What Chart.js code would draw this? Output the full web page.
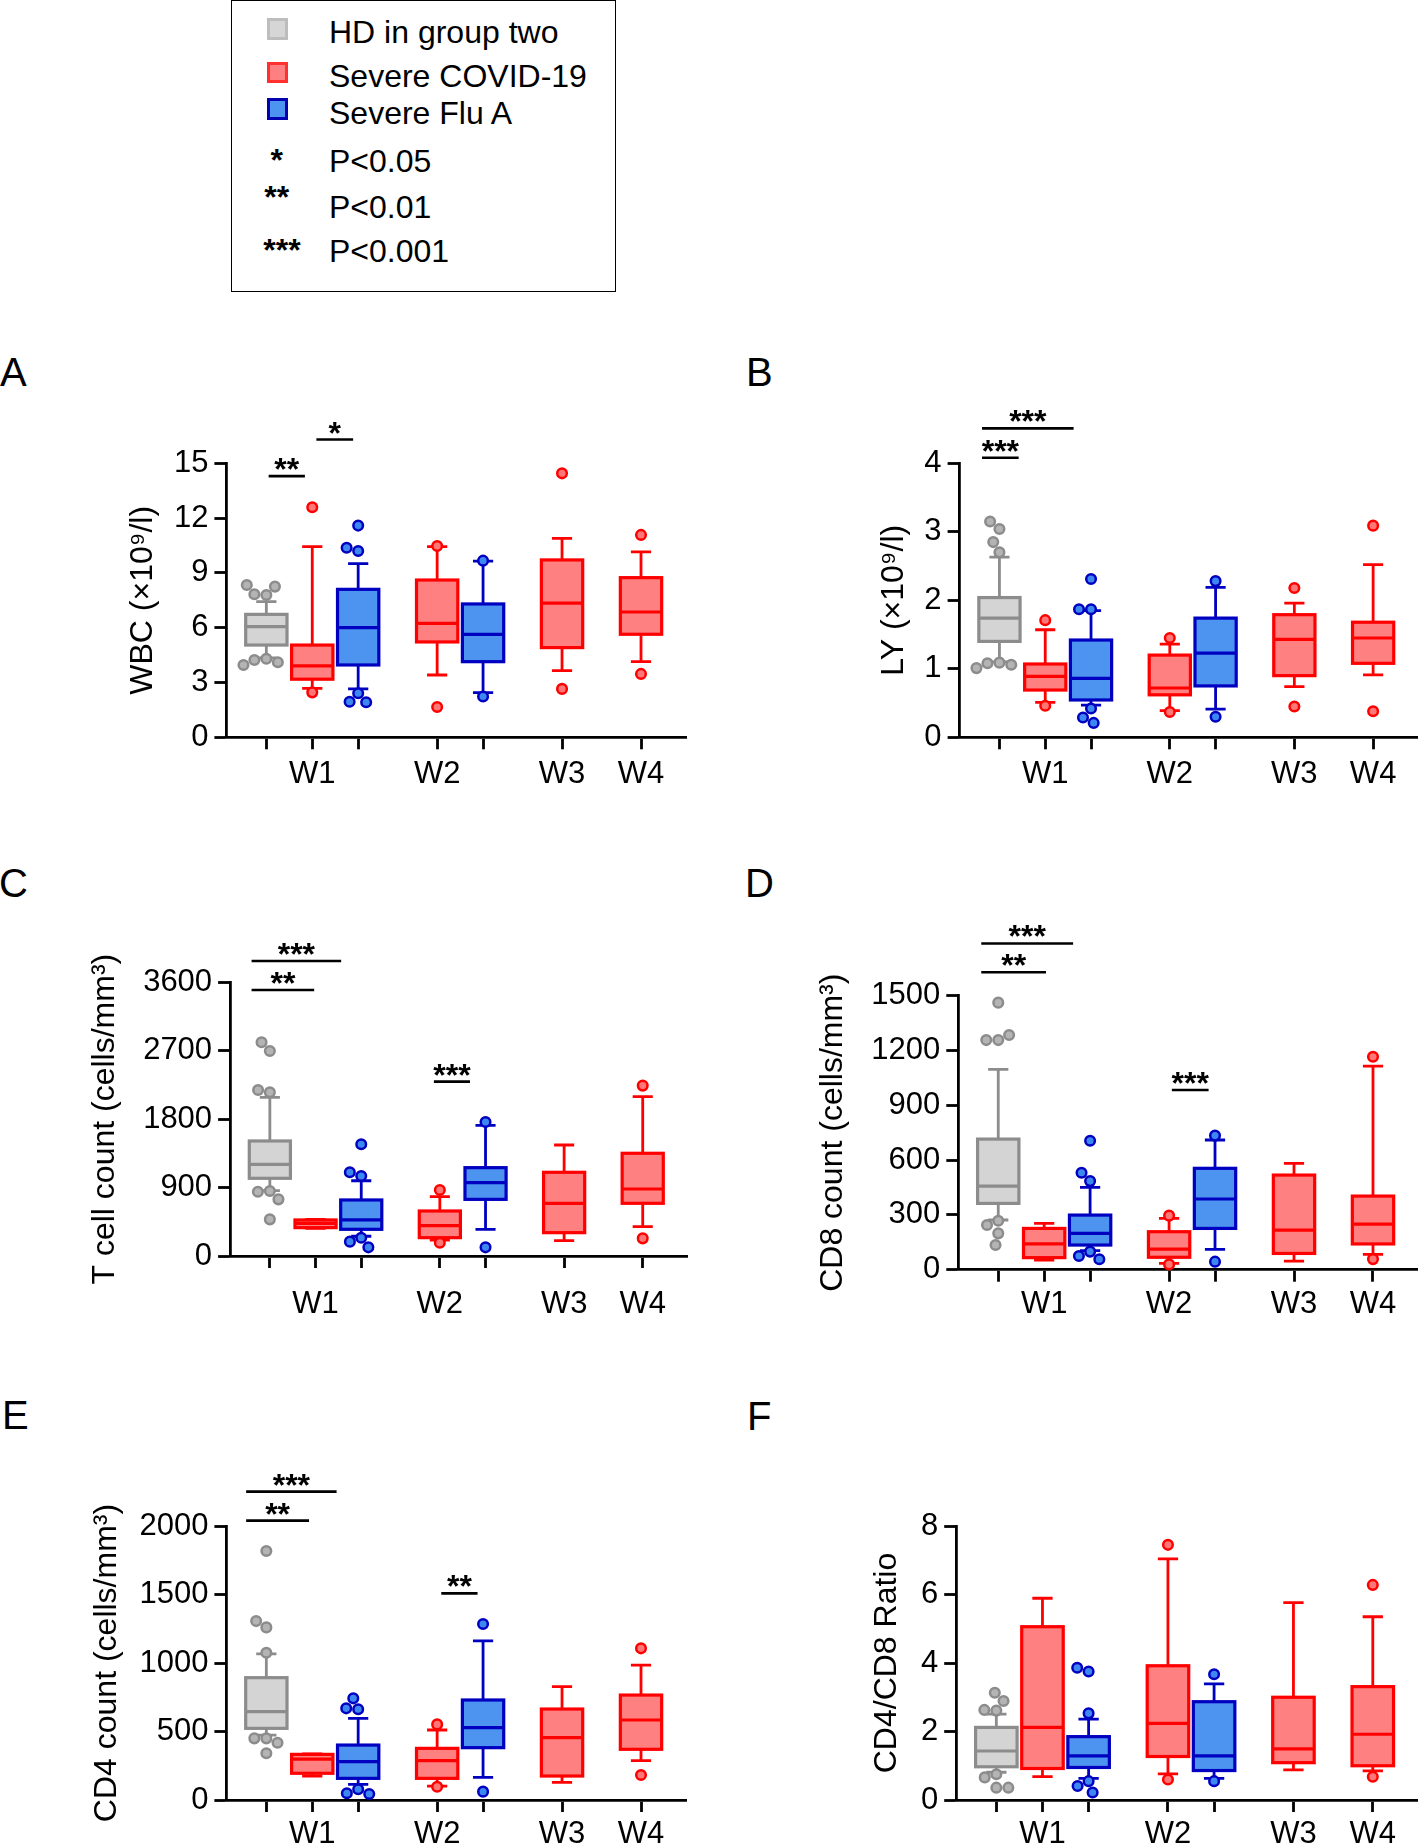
<!DOCTYPE html>
<html>
<head>
<meta charset="utf-8">
<script src="https://cdn.jsdelivr.net/npm/chart.js@4.4.1/dist/chart.umd.min.js"></script>
<style>
  body { margin: 0; background: #fff; width: 1418px; height: 1847px; position: relative; overflow: hidden;
         font-family: "Liberation Sans", Arial, sans-serif; }
  canvas { position: absolute; }
  .t { position: absolute; line-height: 1; white-space: nowrap; color: #000; }
  .sq { position: absolute; width: 21.6px; height: 21.6px; box-sizing: border-box; border: 3px solid; }
  #legend { position: absolute; left: 231px; top: 0; width: 385px; height: 292px; box-sizing: border-box; border: 1.5px solid #000; }
</style>
</head>
<body>
<div id="legend"></div>
<div class="sq" style="left:266.7px;top:18.3px;background:#d6d6d6;border-color:#bdbdbd"></div>
<div class="sq" style="left:266.7px;top:61.7px;background:#ff8080;border-color:#ff3030"></div>
<div class="sq" style="left:266.7px;top:98.3px;background:#4d94f0;border-color:#0000b0"></div>
<div class="t" style="left:329px;top:16.2px;font-size:32px">HD in group two</div>
<div class="t" style="left:329px;top:60.2px;font-size:32px">Severe COVID-19</div>
<div class="t" style="left:329px;top:96.9px;font-size:32px">Severe Flu A</div>
<div class="t" style="left:329px;top:144.6px;font-size:32px">P&lt;0.05</div>
<div class="t" style="left:329px;top:191.2px;font-size:32px">P&lt;0.01</div>
<div class="t" style="left:329px;top:235.2px;font-size:32px">P&lt;0.001</div>
<div class="t" style="left:276.7px;top:144px;font-size:32px;font-weight:bold;transform:translateX(-50%)">*</div>
<div class="t" style="left:276.7px;top:180.5px;font-size:32px;font-weight:bold;transform:translateX(-50%)">**</div>
<div class="t" style="left:282px;top:234px;font-size:32px;font-weight:bold;transform:translateX(-50%)">***</div>

<div class="t" style="left:0px;top:352px;font-size:40px">A</div>
<div class="t" style="left:746px;top:352px;font-size:40px">B</div>
<div class="t" style="left:-1px;top:863px;font-size:40px">C</div>
<div class="t" style="left:745px;top:863px;font-size:40px">D</div>
<div class="t" style="left:2px;top:1395px;font-size:40px">E</div>
<div class="t" style="left:747px;top:1396px;font-size:40px">F</div>

<canvas id="cA" width="700" height="470" style="left:0;top:340px"></canvas>
<canvas id="cB" width="698" height="470" style="left:720px;top:340px"></canvas>
<canvas id="cC" width="700" height="480" style="left:0;top:850px"></canvas>
<canvas id="cD" width="698" height="480" style="left:720px;top:850px"></canvas>
<canvas id="cE" width="700" height="467" style="left:0;top:1380px"></canvas>
<canvas id="cF" width="698" height="467" style="left:720px;top:1380px"></canvas>

<script>
// boxes along the x axis: group (0 HD, 1 COVID, 2 Flu) and week
const groupNames = ["HD in group two", "Severe COVID-19", "Severe Flu A"];
const weekLabels = ["W1", "W2", "W3", "W4"];
const boxGroup = [0, 1, 2, 1, 2, 1, 1];
const boxWeek = [0, 0, 0, 1, 1, 2, 3];

// [lower whisker, Q1, median, Q3, upper whisker]
const wbcStats = [
  [4.35, 5.05, 6.06, 6.73, 7.43],
  [2.68, 3.18, 3.91, 5.05, 10.44],
  [2.65, 3.96, 6.0, 8.1, 9.51],
  [3.41, 5.22, 6.24, 8.61, 10.44],
  [2.45, 4.14, 5.64, 7.3, 9.64],
  [3.65, 4.91, 7.34, 9.71, 10.89],
  [4.14, 5.64, 6.86, 8.74, 10.15],
];
const wbcOutliers = [
  [8.34, 7.83, 7.79, 8.25, 4.3, 3.96, 4.11, 4.23],
  [12.59, 2.46],
  [11.59, 10.38, 10.2, 2.41, 1.92, 1.95],
  [10.47, 1.66],
  [9.67, 2.23],
  [14.45, 2.65],
  [11.08, 3.47],
];
const wbcSig = [[0.05, 0.84, 14.3, "**"], [1.09, 1.89, 16.3, "*"]];

const lyStats = [
  [1.1, 1.4, 1.74, 2.04, 2.63],
  [0.51, 0.69, 0.89, 1.07, 1.57],
  [0.47, 0.545, 0.86, 1.42, 1.85],
  [0.39, 0.62, 0.72, 1.2, 1.36],
  [0.41, 0.75, 1.23, 1.74, 2.19],
  [0.74, 0.9, 1.43, 1.79, 1.96],
  [0.91, 1.08, 1.45, 1.68, 2.52],
];
const lyOutliers = [
  [3.04, 3.15, 2.85, 2.7, 1.08, 1.01, 1.06, 1.09],
  [1.71, 0.46],
  [2.31, 1.87, 1.87, 0.42, 0.21, 0.29],
  [1.45, 0.37],
  [2.28, 0.3],
  [2.18, 0.45],
  [3.09, 0.38],
];
const lySig = [[-0.38, 0.42, 4.08, "***"], [-0.38, 1.62, 4.51, "***"]];

const tcellStats = [
  [860, 1022, 1206, 1513, 2087],
  [364, 373, 430, 474, 482],
  [260, 351, 474, 737, 990],
  [210, 241, 399, 592, 780],
  [351, 745, 965, 1162, 1719],
  [202, 307, 693, 1101, 1460],
  [386, 693, 881, 1351, 2096],
];
const tcellOutliers = [
  [2811, 2697, 2153, 2184, 846, 745, 855, 482],
  [],
  [1469, 1101, 1052, 241, 189, 114],
  [868, 175],
  [1763, 114],
  [],
  [2241, 232],
];
const tcellSig = [[-0.4, 0.97, 3499, "**"], [-0.4, 1.56, 3881, "***"], [3.59, 4.38, 2293, "***"]];

const cd8Stats = [
  [272, 363, 458, 715, 1097],
  [53, 66, 141, 226, 254],
  [104, 135, 199, 299, 451],
  [35, 68, 113, 208, 281],
  [111, 226, 387, 555, 710],
  [47, 89, 217, 518, 582],
  [84, 141, 250, 403, 1115],
];
const cd8Outliers = [
  [1462, 1285, 1257, 1257, 268, 245, 199, 135],
  [],
  [706, 531, 485, 99, 57, 75],
  [296, 29],
  [734, 44],
  [],
  [1166, 58],
];
const cd8Sig = [[-0.37, 1.04, 1628, "**"], [-0.37, 1.63, 1786, "***"], [3.78, 4.58, 984, "***"]];

const cd4Stats = [
  [474, 523, 645, 893, 1066],
  [175, 195, 299, 333, 336],
  [114, 158, 280, 401, 596],
  [102, 158, 287, 377, 511],
  [165, 382, 528, 730, 1161],
  [129, 175, 455, 664, 827],
  [287, 370, 584, 766, 985],
];
const cd4Outliers = [
  [1817, 1306, 1260, 1075, 450, 418, 450, 341],
  [],
  [742, 669, 662, 78, 44, 49],
  [552, 97],
  [1285, 61],
  [],
  [1107, 182],
];
const cd4Sig = [[-0.44, 0.93, 2039, "**"], [-0.44, 1.53, 2251, "***"], [3.81, 4.6, 1508, "**"]];

const ratioStats = [
  [0.81, 0.97, 1.43, 2.12, 2.51],
  [0.68, 0.92, 2.12, 5.06, 5.89],
  [0.63, 0.95, 1.29, 1.85, 2.36],
  [0.76, 1.27, 2.24, 3.92, 7.04],
  [0.63, 0.86, 1.29, 2.87, 3.39],
  [0.88, 1.09, 1.49, 3.0, 5.76],
  [0.85, 1.0, 1.92, 3.31, 5.35],
];
const ratioOutliers = [
  [3.13, 2.89, 2.63, 2.61, 0.66, 0.75, 0.36, 0.36],
  [],
  [3.75, 3.86, 2.53, 0.55, 0.41, 0.22],
  [7.45, 0.6],
  [3.67, 0.55],
  [],
  [6.28, 0.68],
];
const ratioSig = [];

// layout / style
const slotPos = [0, 1, 2, 3.72, 4.72, 6.44, 8.16];
const X_MIN = -0.87, X_MAX = 9.14;
const BOX_HALF = 0.45, CAP_HALF = 0.22;
const DOT_R = 4.8, DOT_SEP = 12;
const FONT = '"Liberation Sans", Arial, sans-serif';
const strokeCol = ["#8c8c8c", "#ff0000", "#0000c0"];
const fillCol = ["#d4d4d4", "#ff8080", "#4d94f0"];
const dotFill = ["#b4b4b4", "#ff7676", "#3d88f0"];

const slotLabels = boxGroup.map((g, i) => (g === 1 ? weekLabels[boxWeek[i]] : ""));

function swarm(pys, sep) {
  const placed = [];
  return pys.map((py) => {
    const iv = [];
    placed.forEach((p) => {
      const dy = Math.abs(p.y - py);
      if (dy < sep) {
        const w = Math.sqrt(sep * sep - dy * dy);
        iv.push([p.dx - w, p.dx + w]);
      }
    });
    const cands = [0];
    iv.forEach(([a, b]) => cands.push(a, b));
    cands.sort((a, b) => Math.abs(a) - Math.abs(b) || a - b);
    const dx = cands.find((c) => iv.every(([a, b]) => c <= a + 1e-6 || c >= b - 1e-6));
    placed.push({ y: py, dx });
    return dx;
  });
}

const boxPlugin = {
  id: "boxes",
  afterDatasetsDraw(chart, args, o) {
    const { ctx } = chart;
    const x = chart.scales.x, y = chart.scales.y;
    const unit = x.getPixelForValue(1) - x.getPixelForValue(0);
    const bw = BOX_HALF * unit, cw = CAP_HALF * unit;
    ctx.save();
    o.stats.forEach((s, i) => {
      const g = boxGroup[i];
      const cx = x.getPixelForValue(slotPos[i]);
      const [lo, q1, med, q3, hi] = s.map((v) => y.getPixelForValue(v));
      ctx.strokeStyle = strokeCol[g];
      ctx.lineWidth = 2.8;
      ctx.beginPath();
      ctx.moveTo(cx, q3); ctx.lineTo(cx, hi);
      ctx.moveTo(cx - cw, hi); ctx.lineTo(cx + cw, hi);
      ctx.moveTo(cx, q1); ctx.lineTo(cx, lo);
      ctx.moveTo(cx - cw, lo); ctx.lineTo(cx + cw, lo);
      ctx.stroke();
      ctx.fillStyle = fillCol[g];
      ctx.fillRect(cx - bw, q3, 2 * bw, q1 - q3);
      ctx.lineWidth = 3.2;
      ctx.strokeRect(cx - bw, q3, 2 * bw, q1 - q3);
      ctx.beginPath();
      ctx.moveTo(cx - bw, med); ctx.lineTo(cx + bw, med);
      ctx.stroke();
    });
    // outliers, spread sideways like a swarm
    o.outliers.forEach((pts, i) => {
      if (!pts.length) return;
      const g = boxGroup[i];
      const cx = x.getPixelForValue(slotPos[i]);
      const med = o.stats[i][2];
      const sorted = pts.slice().sort((a, b) => Math.abs(a - med) - Math.abs(b - med));
      const pys = sorted.map((v) => y.getPixelForValue(v));
      const dxs = swarm(pys, DOT_SEP);
      ctx.fillStyle = dotFill[g];
      ctx.strokeStyle = strokeCol[g];
      ctx.lineWidth = 2.5;
      pys.forEach((py, k) => {
        ctx.beginPath();
        ctx.arc(cx + dxs[k], py, DOT_R, 0, Math.PI * 2);
        ctx.fill();
        ctx.stroke();
      });
    });
    // significance bars
    ctx.strokeStyle = "#000";
    ctx.fillStyle = "#000";
    ctx.lineWidth = 2.6;
    ctx.font = "bold 32px " + FONT;
    ctx.textAlign = "center";
    ctx.textBaseline = "alphabetic";
    o.sig.forEach(([a, b, v, txt]) => {
      const x1 = x.getPixelForValue(a), x2 = x.getPixelForValue(b);
      const py = y.getPixelForValue(v);
      ctx.beginPath();
      ctx.moveTo(x1, py); ctx.lineTo(x2, py);
      ctx.stroke();
      ctx.fillText(txt, (x1 + x2) / 2, py + 4);
    });
    ctx.restore();
  },
};

const panels = [
  { id: "cA", title: "WBC (×10⁹/l)", max: 15, step: 3, stats: wbcStats, outliers: wbcOutliers, sig: wbcSig,
    yW: 226.4, padTop: 123.3, padRight: 14, xH: 72.7, titlePad: 124.1, labelPad: 7 },
  { id: "cB", title: "LY (×10⁹/l)", max: 4, step: 1, stats: lyStats, outliers: lyOutliers, sig: lySig,
    yW: 239.6, padTop: 123.3, padRight: 0, xH: 72.7, titlePad: 154.9, labelPad: 7 },
  { id: "cC", title: "T cell count (cells/mm³)", max: 3600, step: 900, stats: tcellStats, outliers: tcellOutliers, sig: tcellSig,
    yW: 230.1, padTop: 132.3, padRight: 12.5, xH: 74, titlePad: 85.6, labelPad: 18 },
  { id: "cD", title: "CD8 count (cells/mm³)", max: 1500, step: 300, stats: cd8Stats, outliers: cd8Outliers, sig: cd8Sig,
    yW: 238.3, padTop: 145.7, padRight: 0, xH: 60.3, titlePad: 94.4, labelPad: 4.3 },
  { id: "cE", title: "CD4 count (cells/mm³)", max: 2000, step: 500, stats: cd4Stats, outliers: cd4Outliers, sig: cd4Sig,
    yW: 226.4, padTop: 146, padRight: 14, xH: 47, titlePad: 87.8, labelPad: 4 },
  { id: "cF", title: "CD4/CD8 Ratio", max: 8, step: 2, stats: ratioStats, outliers: ratioOutliers, sig: ratioSig,
    yW: 236.2, padTop: 146, padRight: 0, xH: 47, titlePad: 148.4, labelPad: 4 },
];

const axisGrid = { display: true, drawOnChartArea: false, drawTicks: true, tickLength: 12, tickWidth: 2.8, tickColor: "#000", color: "#000" };
const axisBorder = { display: true, color: "#000", width: 2.8 };

panels.forEach((p) => {
  new Chart(document.getElementById(p.id), {
    type: "scatter",
    data: { datasets: [] },
    options: {
      responsive: false,
      animation: false,
      events: [],
      layout: { padding: { top: p.padTop, right: p.padRight, bottom: 0, left: 0 } },
      plugins: {
        legend: { display: false },
        tooltip: { enabled: false },
        boxes: { stats: p.stats, outliers: p.outliers, sig: p.sig },
      },
      scales: {
        x: {
          type: "linear",
          min: X_MIN,
          max: X_MAX,
          afterBuildTicks: (s) => { s.ticks = slotPos.map((v) => ({ value: v })); },
          afterFit: (s) => { s.height = p.xH; },
          grid: axisGrid,
          border: axisBorder,
          ticks: {
            autoSkip: false,
            maxRotation: 0,
            padding: p.labelPad,
            color: "#000",
            font: { family: FONT, size: 31 },
            callback: (v, i) => slotLabels[i],
          },
        },
        y: {
          min: 0,
          max: p.max,
          afterFit: (s) => { s.width = p.yW; },
          grid: axisGrid,
          border: axisBorder,
          ticks: {
            stepSize: p.step,
            padding: 6,
            color: "#000",
            font: { family: FONT, size: 31 },
            callback: (v) => String(v),
          },
          title: {
            display: true,
            text: p.title,
            color: "#000",
            font: { family: FONT, size: 32 },
            padding: { top: p.titlePad, bottom: 0 },
          },
        },
      },
    },
    plugins: [boxPlugin],
  });
});
</script>
</body>
</html>
